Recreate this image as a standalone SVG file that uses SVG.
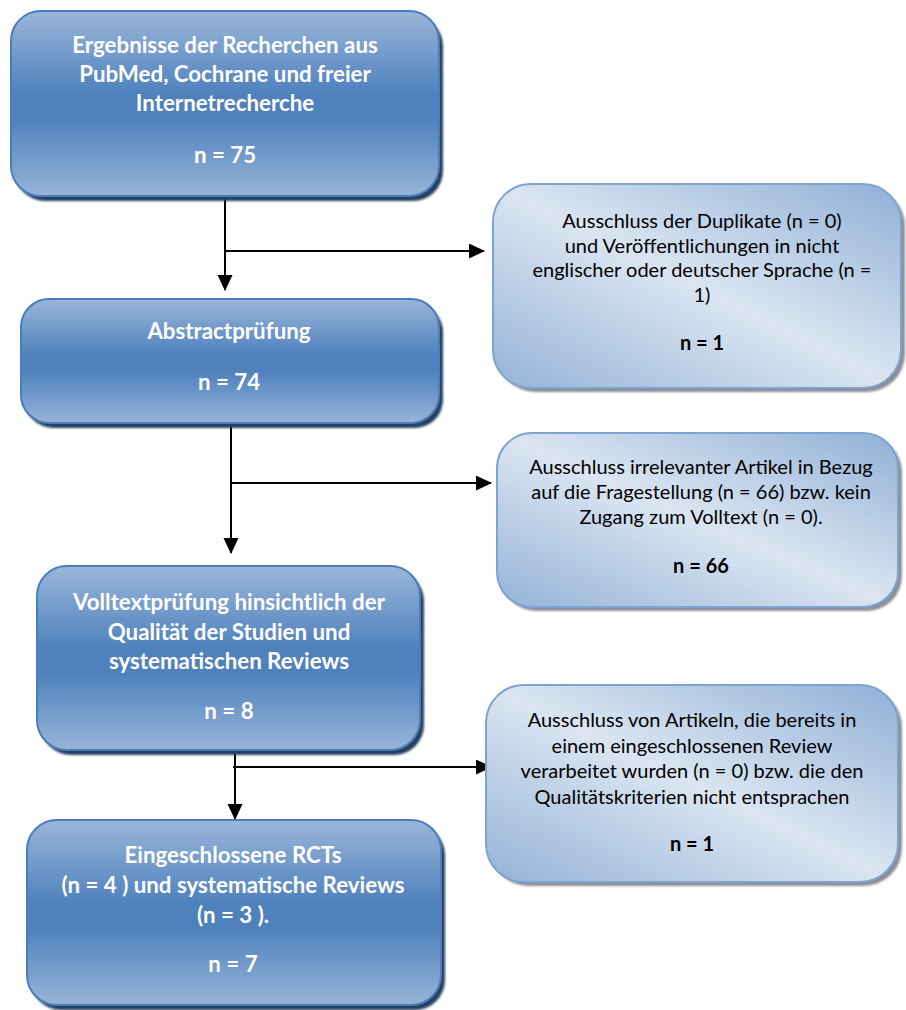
<svg xmlns="http://www.w3.org/2000/svg" width="906" height="1010" viewBox="0 0 906 1010">
<style>
.main{fill:url(#gBlue);stroke:#4a7ebb;stroke-width:2}
.mshadow{fill:#253f62}
.excl{fill:url(#gLight);stroke:#7ea3cf;stroke-width:2}
.eshadow{fill:#8a8f96}
.tb{font-family:Lato,"Open Sans",sans-serif;font-weight:bold;font-size:22.3px;fill:#ffffff;text-anchor:middle}
.tr{font-family:Lato,"Open Sans",sans-serif;font-size:20px;fill:#000000;text-anchor:middle}
.trb{font-family:Lato,"Open Sans",sans-serif;font-size:20px;font-weight:bold;fill:#000000;text-anchor:middle}
.conn{stroke:#000;stroke-width:2;fill:none}
</style>
<defs>
<linearGradient id="gBlue" x1="0" y1="0" x2="0" y2="1">
<stop offset="0" stop-color="#9ab6da"/>
<stop offset="0.45" stop-color="#4f81bd"/>
<stop offset="0.58" stop-color="#4f81bd"/>
<stop offset="1" stop-color="#97b4d8"/>
</linearGradient>
<linearGradient id="gLight" x1="1" y1="0" x2="0" y2="1">
<stop offset="0" stop-color="#8fb0d6"/>
<stop offset="0.5" stop-color="#dbe5f1"/>
<stop offset="1" stop-color="#94b3d8"/>
</linearGradient>
<filter id="blur" x="-5%" y="-5%" width="110%" height="110%"><feGaussianBlur stdDeviation="1"/></filter>
<marker id="ah" markerUnits="userSpaceOnUse" markerWidth="16" markerHeight="16" refX="15" refY="7.5" orient="auto">
<path d="M0,0 L16,7.5 L0,15 z" fill="#000"/>
</marker>
</defs>

<g id="connectors">
<line class="conn" x1="225" y1="196" x2="225" y2="290" marker-end="url(#ah)"/>
<line class="conn" x1="225" y1="251" x2="484" y2="251" marker-end="url(#ah)"/>
<line class="conn" x1="231" y1="423" x2="231" y2="553" marker-end="url(#ah)"/>
<line class="conn" x1="231" y1="483" x2="491" y2="483" marker-end="url(#ah)"/>
<line class="conn" x1="235" y1="740" x2="235" y2="819" marker-end="url(#ah)"/>
<line class="conn" x1="233" y1="767" x2="491" y2="767" marker-end="url(#ah)"/>
</g>

<g id="n1">
<rect class="mshadow" x="15" y="16" width="428" height="185" rx="30" filter="url(#blur)"/>
<rect class="main" x="11" y="11" width="428" height="185" rx="30"/>
<text class="tb" x="225" y="53">Ergebnisse der Recherchen aus</text>
<text class="tb" x="225" y="82">PubMed, Cochrane und freier</text>
<text class="tb" x="225" y="111">Internetrecherche</text>
<text class="tb" x="225" y="163">n = 75</text>
</g>

<g id="n2">
<rect class="mshadow" x="25" y="304" width="418" height="124" rx="28" filter="url(#blur)"/>
<rect class="main" x="21" y="299" width="418" height="124" rx="28"/>
<text class="tb" x="229" y="339">Abstractprüfung</text>
<text class="tb" x="229" y="390">n = 74</text>
</g>

<g id="n3">
<rect class="mshadow" x="41" y="571" width="383" height="184" rx="30" filter="url(#blur)"/>
<rect class="main" x="37" y="566" width="383" height="184" rx="30"/>
<text class="tb" x="229" y="610">Volltextprüfung hinsichtlich der</text>
<text class="tb" x="229" y="640">Qualität der Studien und</text>
<text class="tb" x="229" y="669">systematischen Reviews</text>
<text class="tb" x="229" y="719">n = 8</text>
</g>

<g id="n4">
<rect class="mshadow" x="31" y="825" width="414" height="185" rx="30" filter="url(#blur)"/>
<rect class="main" x="27" y="820" width="414" height="185" rx="30"/>
<text class="tb" x="233" y="863">Eingeschlossene RCTs</text>
<text class="tb" x="233" y="893">(n = 4 ) und systematische Reviews</text>
<text class="tb" x="233" y="923">(n = 3 ).</text>
<text class="tb" x="233" y="972">n = 7</text>
</g>

<g id="e1">
<rect class="eshadow" x="497" y="188" width="408" height="204" rx="38" filter="url(#blur)"/>
<rect class="excl" x="493" y="184" width="408" height="204" rx="38"/>
<text class="tr" x="702" y="228">Ausschluss der Duplikate (n = 0)</text>
<text class="tr" x="702" y="253">und Veröffentlichungen in nicht</text>
<text class="tr" x="702" y="277">englischer oder deutscher Sprache (n =</text>
<text class="tr" x="702" y="302">1)</text>
<text class="trb" x="702" y="350">n = 1</text>
</g>

<g id="e2">
<rect class="eshadow" x="501" y="437" width="401" height="174" rx="35" filter="url(#blur)"/>
<rect class="excl" x="497" y="433" width="401" height="174" rx="35"/>
<text class="tr" x="701" y="474">Ausschluss irrelevanter Artikel in Bezug</text>
<text class="tr" x="701" y="499">auf die Fragestellung (n = 66) bzw. kein</text>
<text class="tr" x="701" y="524">Zugang zum Volltext (n = 0).</text>
<text class="trb" x="701" y="573">n = 66</text>
</g>

<g id="e3">
<rect class="eshadow" x="490" y="689" width="412" height="197" rx="38" filter="url(#blur)"/>
<rect class="excl" x="486" y="685" width="412" height="197" rx="38"/>
<text class="tr" x="692" y="727">Ausschluss von Artikeln, die bereits in</text>
<text class="tr" x="692" y="753">einem eingeschlossenen Review</text>
<text class="tr" x="692" y="778">verarbeitet wurden (n = 0) bzw. die den</text>
<text class="tr" x="692" y="804">Qualitätskriterien nicht entsprachen</text>
<text class="trb" x="692" y="851">n = 1</text>
</g>
</svg>
